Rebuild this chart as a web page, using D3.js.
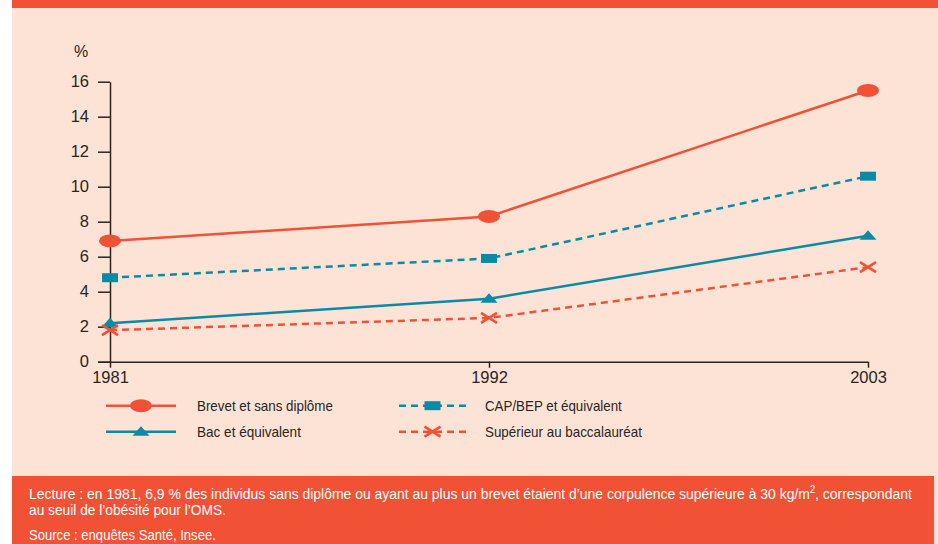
<!DOCTYPE html>
<html>
<head>
<meta charset="utf-8">
<script src="https://cdn.jsdelivr.net/npm/d3@7"></script>
<style>
body {margin:0; background:#fff;}
svg text {font-family:"Liberation Sans", Arial, sans-serif;}
</style>
</head>
<body>
<div class="graph"></div>
<script>
/*---------- DATA ----------*/
const years = [1981, 1992, 2003];
const brevet = [6.9, 8.3, 15.5];
const capBep = [4.8, 5.9, 10.6];
const bac = [2.2, 3.6, 7.2];
const superieur = [1.8, 2.5, 5.4];
const yTicks = [0, 2, 4, 6, 8, 10, 12, 14, 16];
const seriesNames = ["Brevet et sans diplôme", "CAP/BEP et équivalent", "Bac et équivalent", "Supérieur au baccalauréat"];
const footLines = [
    "Lecture : en 1981, 6,9 % des individus sans diplôme ou ayant au plus un brevet étaient d’une corpulence supérieure à 30 kg/m",
    "au seuil de l’obésité pour l’OMS.",
    "Source : enquêtes Santé, Insee."
];

/*---------- D3 STUFF ----------*/
const SIZE = {X:938, Y:544};
const ORANGE = "#f15236", TEAL = "#0b8aa8", PEACH = "#fde3d6", INK = "#2b2522";

const svg = d3.select(".graph").append("svg")
    .attr("width", SIZE.X)
    .attr("height", SIZE.Y);

//background panels
svg.append("rect").attr("x", 12).attr("y", 0).attr("width", 926).attr("height", 544).attr("fill", PEACH);
svg.append("rect").attr("x", 12).attr("y", 0).attr("width", 926).attr("height", 8).attr("fill", ORANGE);
svg.append("rect").attr("x", 12).attr("y", 476).attr("width", 922).attr("height", 68).attr("fill", ORANGE);

//squeeze a text horizontally so it spans the width it has in print
function squeeze(t, x0, width) {
    const w = t.node().getComputedTextLength();
    t.attr("x", 0).attr("transform", `translate(${x0},0) scale(${width / w},1)`);
}

//scales
const x = d3.scaleLinear().domain([1981, 2003]).range([110, 868]);
const y = d3.scaleLinear().domain([0, 16]).range([361.7, 81.7]);

//axes
const yAxis = svg.append("g")
    .attr("transform", "translate(110,0)")
    .call(d3.axisLeft(y).tickValues(yTicks).tickSize(12).tickSizeOuter(0).tickPadding(9));
const xAxis = svg.append("g")
    .attr("transform", `translate(0,${y(0)})`)
    .call(d3.axisBottom(x).tickValues(years).tickFormat(d3.format("d")).tickSize(6).tickSizeOuter(0).tickPadding(4));

[yAxis, xAxis].forEach(a => {
    a.selectAll("path, line").attr("stroke", INK).attr("stroke-width", 1.5);
    a.selectAll("text").attr("fill", INK).attr("font-size", 16.5).attr("font-family", null);
});
xAxis.select(".domain").attr("d", `M98,0.5H${x(2003)}`);

svg.append("text")
    .attr("x", 81).attr("y", 57)
    .attr("text-anchor", "middle")
    .attr("font-size", 16).attr("fill", INK)
    .text("%");

//series
const series = [
    {name:seriesNames[0], values:brevet, color:ORANGE, dash:null, marker:"ellipse"},
    {name:seriesNames[1], values:capBep, color:TEAL, dash:"7,5", marker:"square"},
    {name:seriesNames[2], values:bac, color:TEAL, dash:null, marker:"triangle"},
    {name:seriesNames[3], values:superieur, color:ORANGE, dash:"7,5", marker:"cross"}
];

const line = d3.line()
    .x(d => x(d.year))
    .y(d => y(d.value));

function drawMarker(g, type, color) {
    if (type == "ellipse") {
        g.append("ellipse").attr("rx", 11).attr("ry", 6.5).attr("fill", color);
    } else if (type == "square") {
        g.append("rect").attr("x", -8).attr("y", -4.5).attr("width", 16).attr("height", 9).attr("fill", color);
    } else if (type == "triangle") {
        g.append("path").attr("d", "M0,-5.5L8.5,4L-8.5,4Z").attr("fill", color);
    } else {
        g.append("path").attr("d", "M-8,-5L8,5M-8,5L8,-5")
            .attr("stroke", color).attr("stroke-width", 2.6).attr("fill", "none");
    }
}

series.forEach(s => {
    const pts = years.map((yr, i) => ({year:yr, value:s.values[i]}));
    svg.append("path")
        .datum(pts)
        .attr("fill", "none")
        .attr("stroke", s.color)
        .attr("stroke-width", 2.5)
        .attr("stroke-dasharray", s.dash)
        .attr("d", line);
    pts.forEach(p => {
        const g = svg.append("g").attr("transform", `translate(${x(p.year)},${y(p.value)})`);
        drawMarker(g, s.marker, s.color);
    });
});

//legend
const legendPos = [
    {x0:106, x1:176, y:405.7, tx:197, tw:136},
    {x0:399, x1:466, y:405.7, tx:485, tw:137},
    {x0:106, x1:176, y:431.7, tx:197, tw:104},
    {x0:399, x1:466, y:431.7, tx:485, tw:157}
];
series.forEach((s, i) => {
    const p = legendPos[i];
    svg.append("line")
        .attr("x1", p.x0).attr("x2", p.x1)
        .attr("y1", p.y).attr("y2", p.y)
        .attr("stroke", s.color).attr("stroke-width", 2.5)
        .attr("stroke-dasharray", s.dash);
    const g = svg.append("g").attr("transform", `translate(${(p.x0 + p.x1) / 2},${p.y})`);
    drawMarker(g, s.marker, s.color);
    const t = svg.append("text")
        .attr("y", p.y + 5)
        .attr("font-size", 14).attr("fill", INK)
        .text(s.name);
    squeeze(t, p.tx, p.tw);
});

//footer
const l1 = svg.append("text").attr("y", 499)
    .attr("font-size", 15).attr("fill", "#fff");
l1.append("tspan").text(footLines[0]);
l1.append("tspan").attr("dy", -6).attr("font-size", 10).text("2");
l1.append("tspan").attr("dy", 6).text(", correspondant");
squeeze(l1, 29, 884);
const l2 = svg.append("text").attr("y", 515)
    .attr("font-size", 15).attr("fill", "#fff").text(footLines[1]);
squeeze(l2, 29, 197);
const l3 = svg.append("text").attr("y", 540)
    .attr("font-size", 15).attr("fill", "#fff").text(footLines[2]);
squeeze(l3, 29, 187);
</script>
</body>
</html>
